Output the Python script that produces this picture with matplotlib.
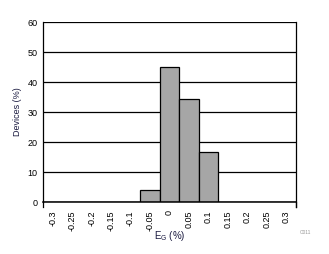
import matplotlib
matplotlib.use("Agg")
import matplotlib.pyplot as plt
import numpy as np

plt.rcParams['font.family'] = ['Liberation Sans', 'DejaVu Sans']

categories = ['-0.3', '-0.25', '-0.2', '-0.15', '-0.1', '-0.05', '0',
              '0.05', '0.1', '0.15', '0.2', '0.25', '0.3']
values = [0, 0, 0, 0, 0, 4, 45, 34.2, 16.7, 0, 0, 0, 0]
yticks = [0, 10, 20, 30, 40, 50, 60]

fig = plt.figure(figsize=(3.29, 2.54), dpi=100)
ax = fig.add_axes([43/329, 1-202/254, 253/329, 180/254])

x = np.arange(len(categories))
ax.bar(x, values, width=1.0, color='#A6A6A6', edgecolor='black', linewidth=0.9, zorder=3)

ax.set_xlim(-0.5, len(categories)-0.5)
ax.set_ylim(0, 60)
ax.set_yticks(yticks)
ax.set_yticklabels([str(v) for v in yticks], fontsize=6.5)
ax.set_xticks(x)
ax.set_xticklabels(categories, rotation=90, fontsize=6.5)
ax.tick_params(axis='both', length=0)
ax.tick_params(axis='y', pad=4)
ax.tick_params(axis='x', pad=6)

ax.yaxis.grid(True, color='black', linewidth=0.9, zorder=0)
ax.set_axisbelow(True)
for s in ['top', 'bottom']:
    ax.spines[s].set_visible(False)
for s in ['left', 'right']:
    ax.spines[s].set_linewidth(0.9)
    ax.spines[s].set_bounds(-1.7, 60)
ax.spines['left'].set_bounds(0, 60)
ax.plot([0, 1], [0, 0], transform=ax.transAxes, color='black', lw=1.1, clip_on=False, zorder=4)
for xe in (0, 1):
    ax.plot([xe, xe], [0, -0.028], transform=ax.transAxes, color='black', lw=0.9, clip_on=False)

ax.set_ylabel('Devices (%)', fontsize=6.5, color='#1a1a40', labelpad=4)
ax.set_xlabel(r'E$_{\mathregular{G}}$ (%)', fontsize=7, color='#1a1a40', labelpad=-1.5)

fig.text(305/329, 1-232/254, 'C011', fontsize=3.5, color='#999999', ha='center', va='center')

fig.savefig('out.png', dpi=100)
